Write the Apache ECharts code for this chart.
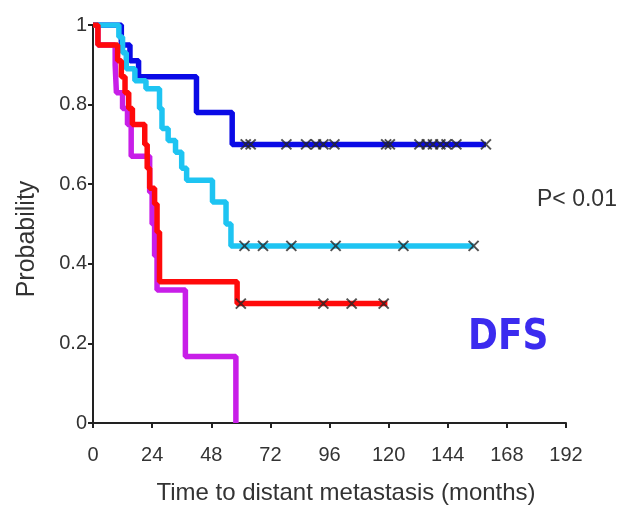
<!DOCTYPE html>
<html>
<head>
<meta charset="utf-8">
<script src="https://cdn.jsdelivr.net/npm/echarts@6/dist/echarts.min.js"></script>
<style>
  html, body { margin: 0; padding: 0; background: #fff; }
  #chart { width: 621px; height: 507px; }
</style>
</head>
<body>
<div id="chart"></div>
<script>
// x ticks (months) and y ticks
const xTicks = [0, 24, 48, 72, 96, 120, 144, 168, 192];
const yTicks = [0, 0.2, 0.4, 0.6, 0.8, 1];

// KM curves: time where the step starts, survival from that time
const blueT = [0, 11.5, 15, 18.5, 42, 56.5, 159.5];
const blueS = [1, 0.95, 0.91, 0.87, 0.78, 0.70, 0.70];
const blueCens = [62, 64, 78.5, 86.5, 90.5, 93.5, 98, 119, 120.5, 132.5, 135.5, 138, 141, 143.5, 147.5, 159.5];

const cyanT = [0, 10.5, 12, 13.5, 17, 21.5, 27, 28, 30.5, 33.5, 36, 38, 48.5, 54, 56, 154.5];
const cyanS = [1, 0.97, 0.93, 0.89, 0.86, 0.84, 0.79, 0.74, 0.71, 0.68, 0.64, 0.61, 0.555, 0.50, 0.445, 0.445];
const cyanCens = [61.5, 69, 80.5, 98.5, 126, 154.5];

const redT = [0, 2, 10, 11.5, 13, 14.5, 16, 21, 22, 23, 25, 26, 27, 58.5, 119.5];
const redS = [1, 0.95, 0.91, 0.87, 0.83, 0.79, 0.75, 0.70, 0.64, 0.59, 0.55, 0.48, 0.355, 0.30, 0.30];
const redCens = [60, 93.5, 105, 118];

const magT = [0, 2, 9, 9.5, 12, 14, 15.5, 23, 24, 25, 26, 37.5, 58];
const magS = [1, 0.95, 0.90, 0.83, 0.79, 0.75, 0.67, 0.58, 0.50, 0.42, 0.334, 0.167, 0];
const magCens = [];

const groups = [
  { t: magT, s: magS, c: magCens, color: "#c81ee8" },
  { t: blueT, s: blueS, c: blueCens, color: "#0a0ae6" },
  { t: cyanT, s: cyanS, c: cyanCens, color: "#1ec4f2" },
  { t: redT, s: redS, c: redCens, color: "#ff0a0a" },
];

function survAt(t, s, x) {
  let v = s[0];
  for (let i = 0; i < t.length; i++) {
    if (t[i] <= x) v = s[i];
  }
  return v;
}

const series = [];
groups.forEach((g) => {
  series.push({
    type: "line",
    step: "end",
    symbol: "none",
    lineStyle: { color: g.color, width: 5.5 },
    data: g.t.map((x, i) => [x, g.s[i]]),
    z: 2,
  });
});
groups.forEach((g) => {
  if (!g.c.length) return;
  series.push({
    type: "scatter",
    symbol: "path://M0,0L10,10M10,0L0,10",
    symbolSize: 10,
    itemStyle: { color: "rgba(0,0,0,0)", borderColor: "#262626", borderWidth: 2 },
    data: g.c.map((x) => [x, survAt(g.t, g.s, x)]),
    z: 3,
  });
});

const chart = echarts.init(document.getElementById("chart"));
chart.setOption({
  animation: false,
  textStyle: { fontFamily: "Liberation Sans, Arial, sans-serif" },
  grid: { left: 93, right: 55, top: 25, bottom: 84, containLabel: false, outerBoundsMode: "none" },
  xAxis: {
    type: "value",
    min: xTicks[0],
    max: xTicks[xTicks.length - 1],
    interval: 24,
    axisLine: { lineStyle: { color: "#222", width: 2 } },
    axisTick: { length: 5, lineStyle: { color: "#222", width: 2 } },
    axisLabel: { fontSize: 20, color: "#333", margin: 22 },
    splitLine: { show: false },
  },
  yAxis: {
    type: "value",
    min: yTicks[0],
    max: yTicks[yTicks.length - 1],
    interval: 0.2,
    axisLine: { show: true, lineStyle: { color: "#222", width: 2 } },
    axisTick: { show: true, length: 5, lineStyle: { color: "#222", width: 2 } },
    axisLabel: { fontSize: 20, color: "#333", margin: 6 },
    splitLine: { show: false },
  },
  graphic: [
    {
      type: "text",
      x: 27,
      y: 239,
      rotation: Math.PI / 2,
      style: {
        text: "Probability",
        fontSize: 25,
        fill: "#333",
        fontFamily: "Liberation Sans",
        align: "center",
        verticalAlign: "middle",
      },
    },
    {
      type: "text",
      x: 346,
      y: 493,
      style: {
        text: "Time to distant metastasis (months)",
        fontSize: 24,
        fill: "#333",
        fontFamily: "Liberation Sans",
        align: "center",
        verticalAlign: "middle",
      },
    },
    {
      type: "text",
      left: 537,
      top: 188,
      style: { text: "P< 0.01", fontSize: 23, fill: "#333", fontFamily: "Liberation Sans" },
    },
    {
      type: "text",
      x: 468,
      y: 316,
      scaleY: 1.2,
      style: { text: "DFS", fontSize: 36, fontWeight: "bold", fill: "#3b2bef", fontFamily: "DejaVu Sans" },
    },
  ],
  series: series,
});
</script>
</body>
</html>
